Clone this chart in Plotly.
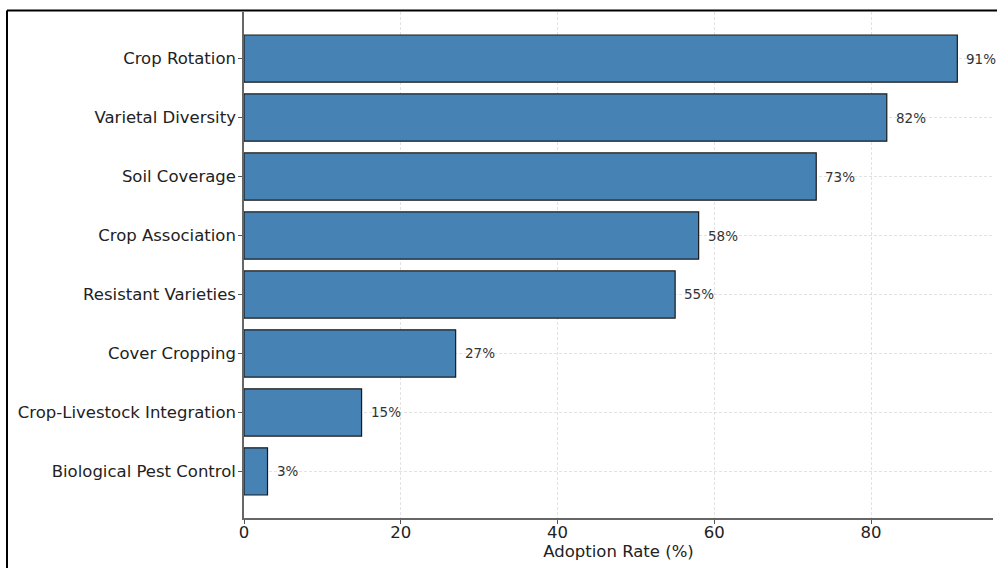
import plotly.graph_objects as go

practices = ["Crop Rotation", "Varietal Diversity", "Soil Coverage", "Crop Association",
             "Resistant Varieties", "Cover Cropping", "Crop-Livestock Integration",
             "Biological Pest Control"]
adoption = [91, 82, 73, 58, 55, 27, 15, 3]
x_ticks = [0, 20, 40, 60, 80]

W, H = 997, 568
ml, mr, mt, mb = 244, 4, 12, 50
pw = W - ml - mr
ph = H - mt - mb

fig = go.Figure()
fig.add_trace(go.Bar(
    x=adoption, y=practices, orientation="h", width=0.8,
    marker=dict(color="#4682B4", line=dict(color="#1a1a1a", width=1.2)),
    hoverinfo="skip",
))

for p, v in zip(practices, adoption):
    fig.add_annotation(x=v, y=p, text=f"{v}%", showarrow=False, xanchor="left",
                       xshift=7, font=dict(family="DejaVu Sans", size=13.5, color="#333333"))

# figure border (top and left edges of the cropped frame)
ytop = (H - mb - 10.5) / ph
xleft = (7 - ml) / pw
fig.add_shape(type="line", xref="paper", yref="paper",
              x0=xleft, x1=1.2, y0=ytop, y1=ytop,
              line=dict(color="black", width=2))
fig.add_shape(type="line", xref="paper", yref="paper",
              x0=xleft, x1=xleft, y0=-0.2, y1=ytop,
              line=dict(color="black", width=2))

grid = dict(showgrid=True, gridcolor="rgba(190,190,190,0.45)", griddash="3px,2px", gridwidth=0.8)

fig.update_layout(
    width=W, height=H,
    margin=dict(l=ml, r=mr, t=mt, b=mb),
    paper_bgcolor="white", plot_bgcolor="white",
    showlegend=False,
    font=dict(family="DejaVu Sans", color="#222222"),
    xaxis=dict(range=[0, 95.55], tickvals=x_ticks, ticks="outside", ticklen=4,
               tickcolor="#555555", showline=True, linecolor="#666666", linewidth=1.5,
               zeroline=False, tickfont=dict(size=16.5, color="#222222"),
               ticklabelstandoff=-6,
               title=dict(text="Adoption Rate (%)", font=dict(size=16.5, color="#222222"), standoff=0),
               layer="above traces", **grid),
    yaxis=dict(categoryorder="array", categoryarray=practices[::-1], range=[-0.79, 7.79],
               ticks="outside", ticklen=4, tickcolor="#555555", showline=True,
               linecolor="#666666", linewidth=1.5, zeroline=False, ticklabelstandoff=-1,
               tickfont=dict(size=16.5, color="#222222"), layer="above traces", **grid),
)

fig.write_html("out.html", config={"displayModeBar": False},
               post_script="document.body.style.margin='0';")
